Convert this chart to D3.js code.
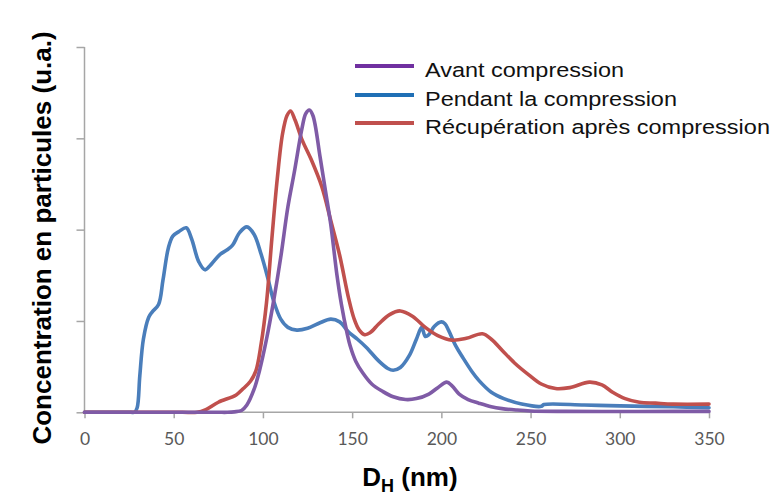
<!DOCTYPE html>
<html>
<head>
<meta charset="utf-8">
<script src="https://cdn.jsdelivr.net/npm/d3@7/dist/d3.min.js"></script>
<style>
  html, body { margin: 0; padding: 0; background: #fff; }
  svg { display: block; }
</style>
</head>
<body>
<svg id="chart" width="772" height="497"></svg>
<script>
// ---- Data ----
const xTicks = [0, 50, 100, 150, 200, 250, 300, 350];
const yTicks = [0, 1, 2, 3, 4];

const seriesNames = ["Avant compression", "Pendant la compression", "Récupération après compression"];

const avantX = [0, 20, 40, 60, 75, 80, 84, 88, 91, 95, 98, 102, 106, 110, 114, 117.5, 122, 124, 126, 128, 132, 135, 138, 141.5, 144, 147, 149, 152, 156, 161, 167, 173, 180, 186, 193, 198, 203, 206, 210, 215, 221, 228, 234, 242, 250, 270, 300, 330, 350];
const avantY = [0, 0, 0, 0, 0, 0, 0.005, 0.02, 0.08, 0.25, 0.45, 0.80, 1.22, 1.70, 2.25, 2.62, 3.12, 3.27, 3.31, 3.25, 2.80, 2.43, 2.06, 1.50, 1.18, 0.88, 0.72, 0.56, 0.43, 0.31, 0.23, 0.17, 0.14, 0.15, 0.20, 0.27, 0.33, 0.29, 0.20, 0.14, 0.10, 0.06, 0.04, 0.025, 0.015, 0.01, 0.008, 0.01, 0.01];

const pendantX = [0, 10, 20, 26, 28, 29.5, 31, 33, 36, 38, 41.5, 44, 47, 49.5, 53, 57, 60, 64, 67.5, 71, 76, 80, 83, 87, 91, 95, 99, 103, 106, 110, 114, 119, 125, 132, 138, 143, 148, 153, 158, 165, 170, 173, 177, 182, 186, 189, 191, 193, 196, 200, 202, 204, 208, 212, 217, 221, 228, 235, 245, 256, 257.5, 280, 300, 330, 350];
const pendantY = [0, 0, 0, 0, 0, 0.05, 0.40, 0.80, 1.04, 1.10, 1.18, 1.45, 1.80, 1.93, 1.98, 2.02, 1.90, 1.65, 1.56, 1.62, 1.73, 1.78, 1.83, 1.97, 2.03, 1.95, 1.73, 1.45, 1.22, 1.02, 0.93, 0.90, 0.92, 0.98, 1.02, 0.99, 0.88, 0.80, 0.71, 0.56, 0.48, 0.46, 0.49, 0.62, 0.80, 0.93, 0.83, 0.85, 0.94, 0.99, 0.97, 0.90, 0.73, 0.60, 0.45, 0.35, 0.22, 0.15, 0.09, 0.065, 0.085, 0.08, 0.07, 0.06, 0.05];

const recupX = [0, 20, 40, 55, 63, 68, 75, 85, 89, 93, 96, 99, 102, 105, 108, 111, 113.5, 115.5, 118, 122, 127, 133, 138, 143, 148, 151, 154, 157, 160, 165, 171, 177, 184, 191, 198, 206, 214, 223, 228, 234, 241, 249, 256, 264, 272, 283, 290, 296, 303, 311, 320, 330, 350];
const recupY = [0, 0, 0, 0, 0, 0.03, 0.11, 0.19, 0.26, 0.34, 0.45, 0.75, 1.20, 1.90, 2.55, 3.05, 3.25, 3.30, 3.20, 2.98, 2.77, 2.47, 2.10, 1.72, 1.25, 1.03, 0.90, 0.85, 0.87, 0.97, 1.07, 1.11, 1.05, 0.93, 0.84, 0.79, 0.81, 0.86, 0.80, 0.68, 0.54, 0.41, 0.31, 0.26, 0.27, 0.33, 0.30, 0.22, 0.15, 0.11, 0.10, 0.09, 0.09];

// ---- Layout ----
const svg = d3.select("#chart");
const plotLeft = 84.5, plotRight = 709, plotTop = 47, plotBottom = 412.3;

const x = d3.scaleLinear().domain([0, 350]).range([plotLeft, plotRight]);
const y = d3.scaleLinear().domain([0, 4]).range([plotBottom, plotTop]);

const axisColor = "#A6A6A6";
const labelColor = "#595959";

// Y axis
const yAxis = svg.append("g")
  .attr("transform", `translate(${plotLeft},0)`)
  .call(d3.axisLeft(y).tickValues(yTicks).tickSize(8).tickFormat(""));
yAxis.select(".domain").attr("stroke", axisColor).attr("stroke-width", 1.5).attr("d", `M0,${plotTop}V${plotBottom}`);
yAxis.selectAll(".tick line").attr("stroke", axisColor).attr("stroke-width", 1.5);

// X axis
const xAxis = svg.append("g")
  .attr("transform", `translate(0,${plotBottom})`)
  .call(d3.axisBottom(x).tickValues(xTicks).tickSize(6).tickPadding(14));
xAxis.select(".domain").attr("stroke", axisColor).attr("stroke-width", 1.5).attr("d", `M${plotLeft},0H${plotRight}`);
xAxis.selectAll(".tick line").attr("stroke", axisColor).attr("stroke-width", 1.5);
xAxis.selectAll(".tick text")
  .attr("fill", labelColor)
  .attr("font-family", "Lato, 'Open Sans', sans-serif")
  .attr("font-size", "17.5px");

// Lines
const lineColors = ["#7F5BA6", "#4A7EBB", "#C0504D"];
const legendColors = ["#7030A0", "#1F6FB5", "#C0504D"];
const series = [
  { name: seriesNames[0], xs: avantX, ys: avantY, color: lineColors[0] },
  { name: seriesNames[1], xs: pendantX, ys: pendantY, color: lineColors[1] },
  { name: seriesNames[2], xs: recupX, ys: recupY, color: lineColors[2] }
];

const line = d3.line()
  .x(d => x(d[0]))
  .y(d => y(d[1]))
  .curve(d3.curveCatmullRom.alpha(0.5));

// draw order: blue, red, purple
[1, 2, 0].forEach(i => {
  const s = series[i];
  const pts = s.xs.map((v, k) => [v, s.ys[k]]);
  svg.append("path")
    .datum(pts)
    .attr("d", line)
    .attr("fill", "none")
    .attr("stroke", s.color)
    .attr("stroke-width", 3.6)
    .attr("stroke-linejoin", "round")
    .attr("stroke-linecap", "round");
});

// Legend
const legendY = [66, 95, 123];
const legendLen = [199, 252, 345];
series.forEach((s, i) => {
  svg.append("line")
    .attr("x1", 355).attr("x2", 414)
    .attr("y1", legendY[i]).attr("y2", legendY[i])
    .attr("stroke", legendColors[i])
    .attr("stroke-width", 4);
  svg.append("text")
    .attr("x", 425)
    .attr("y", legendY[i] + 11)
    .attr("font-family", "'Liberation Sans', Arial, sans-serif")
    .attr("font-size", "20.5px")
    .attr("fill", "#111")
    .attr("textLength", legendLen[i])
    .attr("lengthAdjust", "spacingAndGlyphs")
    .text(s.name);
});

// X title
const xt = svg.append("text")
  .attr("x", 410)
  .attr("y", 486)
  .attr("text-anchor", "middle")
  .attr("font-family", "'Liberation Sans', Arial, sans-serif")
  .attr("font-weight", "bold")
  .attr("font-size", "26px")
  .attr("fill", "#000");
xt.append("tspan").text("D");
xt.append("tspan").attr("font-size", "18px").attr("dy", 6).text("H");
xt.append("tspan").attr("dy", -6).text(" (nm)");

// Y title
svg.append("text")
  .attr("transform", "translate(51,238) rotate(-90)")
  .attr("text-anchor", "middle")
  .attr("font-family", "'Liberation Sans', Arial, sans-serif")
  .attr("font-weight", "bold")
  .attr("font-size", "26px")
  .attr("fill", "#000")
  .text("Concentration en particules (u.a.)");
</script>
</body>
</html>
